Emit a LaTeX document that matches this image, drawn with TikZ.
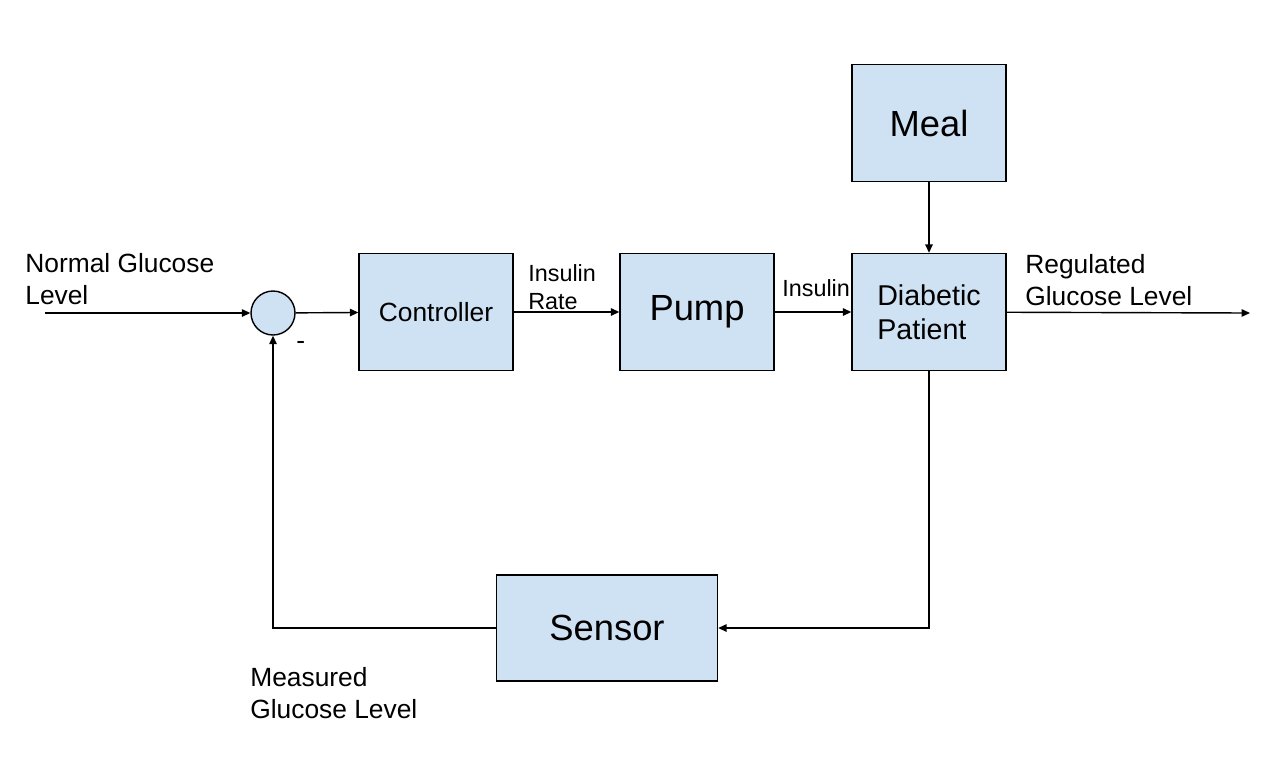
\documentclass[tikz,border=0pt]{standalone}
\usepackage{fontspec}
\setmainfont{Liberation Sans}
\usetikzlibrary{arrows.meta,positioning}
\definecolor{blockblue}{RGB}{207,226,243}

\begin{document}
\begin{tikzpicture}[x=0.02cm,y=-0.02cm,>={Triangle[length=1.7mm,width=1.5mm]}]
      \useasboundingbox (0,0) rectangle (1278,762);
      \begin{scope}[every node/.style={rectangle,draw,line width=0.8pt,fill=blockblue,
          minimum width=3.08cm,minimum height=2.34cm,inner sep=0,font=\fontsize{20.7}{24}\selectfont}]
        \node (meal) at (929,123) {Meal};
        \node (pat) at (929,312) [align=left,font=\fontsize{16.3}{19.3}\selectfont] {Diabetic\\Patient};
        \node (pump) at (697,312) {Pump};
        \node (ctrl) at (436,312) [font=\fontsize{15}{18}\selectfont] {Controller};
        \node (sens) at (607,628) [minimum width=4.42cm,minimum height=2.12cm] {Sensor};
      \end{scope}
      \node (sum) at (273,313) [circle,draw,line width=0.8pt,fill=blockblue,minimum size=0.88cm,inner sep=0] {};
      \coordinate (in) at (45,313);
      \coordinate (out) at (1250,313);
      \begin{scope}
        [every node/.style={inner sep=0,align=left,anchor=west,font=\fontsize{15}{18.2}\selectfont}]
        \node (lblref) at (25,279) {Normal Glucose\\Level};
        \node (lblrate) at (528,287) [font=\fontsize{13.3}{16}\selectfont] {Insulin\\Rate};
        \node (lblins) at (782,288) [font=\fontsize{13.3}{16}\selectfont] {Insulin};
        \node (lblout) at (1025,280) {Regulated\\Glucose Level};
        \node (lblmeas) at (250,693) {Measured\\Glucose Level};
        \node (minus) at (296,345) {-};
      \end{scope}
      \begin{scope}
        [every edge/.style={draw= black, line width=0.8pt}]
        \path (in) edge[->] (sum);
        \path (sum) edge[->] (ctrl);
        \path (ctrl) edge[->] (pump);
        \path (pump) edge[->] (pat);
        \path (meal) edge[->] (pat);
        \path (pat) edge[->] (out);
        \draw[line width=0.8pt,->] (pat) |- (sens);
        \draw[line width=0.8pt,->] (sens) -| (sum);
      \end{scope}
    \end{tikzpicture}
\end{document}
